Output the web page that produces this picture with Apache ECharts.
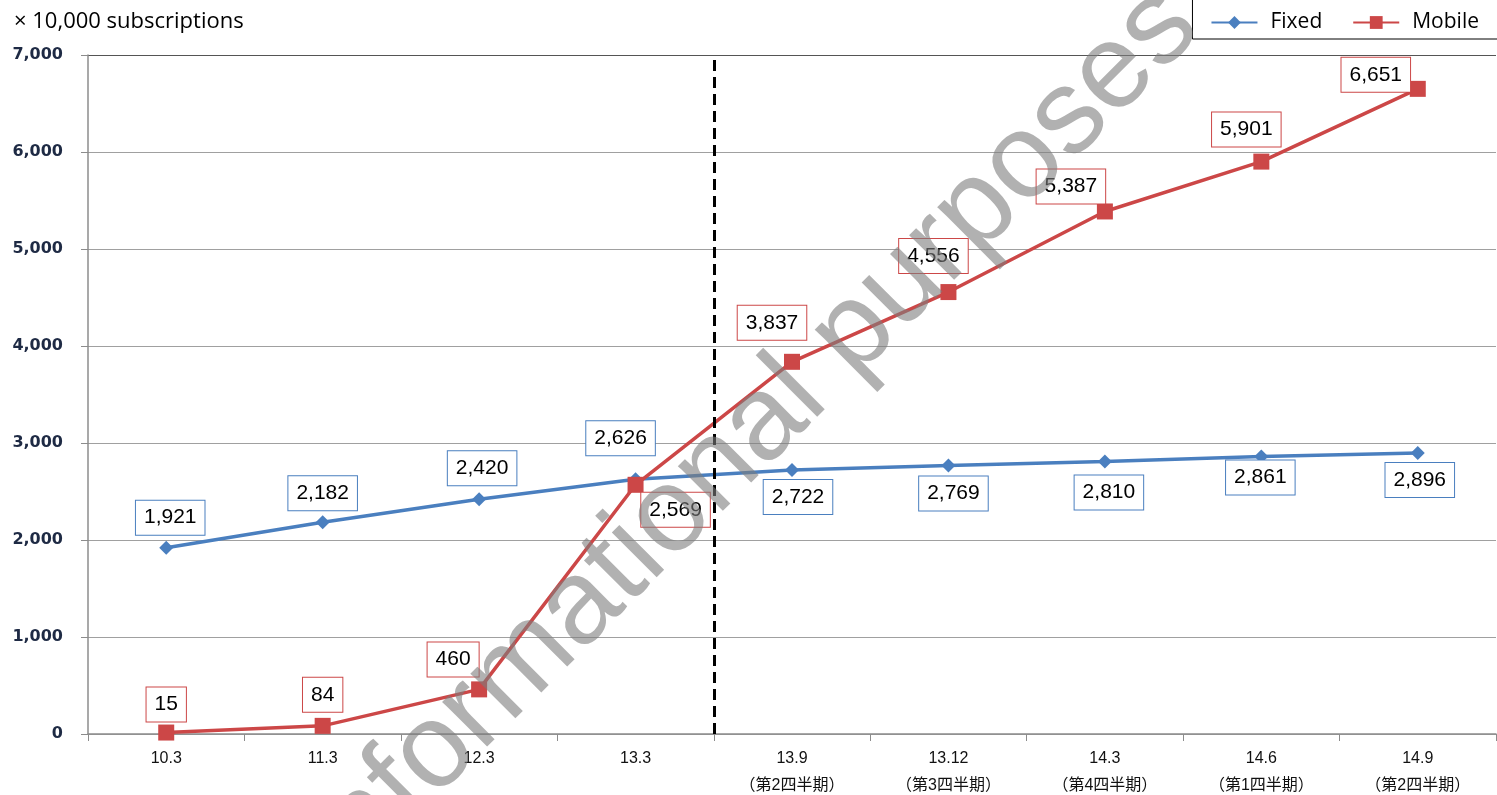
<!DOCTYPE html>
<html>
<head>
<meta charset="utf-8">
<script src="https://cdn.jsdelivr.net/npm/echarts@6/dist/echarts.min.js"></script>
<style>
  html, body { margin: 0; padding: 0; background: #fff; }
  #chart { width: 1497px; height: 795px; }
</style>
</head>
<body>
<div id="chart"></div>
<script>
// 値は図から読み取り（万契約）
const categories = [
  "10.3", "11.3", "12.3", "13.3",
  "13.9\n（第2四半期）", "13.12\n（第3四半期）", "14.3\n（第4四半期）",
  "14.6\n（第1四半期）", "14.9\n（第2四半期）"
];
const fixedValues = [1921, 2182, 2420, 2626, 2722, 2769, 2810, 2861, 2896];
const mobileValues = [15, 84, 460, 2569, 3837, 4556, 5387, 5901, 6651];
const yTicks = [0, 1000, 2000, 3000, 4000, 5000, 6000, 7000];
const dividerAt = 4; // 13.3 と 13.9 の境目

// ラベルの位置ずらし (px)
const fixedLabelOffset = [[4, -30], [0, -29], [3, -31], [-15, -41], [6, 27], [5, 28], [4, 31], [-1, 21], [2, 27]];
const mobileLabelOffset = [[0, -28], [0, -31], [-26, -30], [40, 25], [-20, -39], [-15, -36], [-34, -25], [-15, -32], [-42, -14]];

const BLUE = "#4a7fbf";
const RED = "#cc4747";

function fmt(v) {
  return String(v).replace(/\B(?=(\d{3})+(?!\d))/g, ",");
}

function withLabels(values, offsets, color) {
  return values.map((v, i) => ({
    value: v,
    label: { offset: offsets[i], borderColor: color },
  }));
}

const labelBase = {
  show: true,
  position: "inside",
  formatter: (p) => fmt(p.value),
  color: "#000",
  fontFamily: "Liberation Sans",
  fontSize: 21,
  backgroundColor: "#fff",
  borderWidth: 1,
  padding: [7, 8, 6, 8],
};

const chart = echarts.init(document.getElementById("chart"));
const option = {
  animation: false,
  textStyle: { fontFamily: "Liberation Sans" },
  grid: { left: 88, right: 1, top: 55, bottom: 61, containLabel: false, outerBoundsMode: "none" },
  legend: {
    data: ["Fixed", "Mobile"],
    right: -12,
    top: -6,
    itemWidth: 46,
    itemHeight: 16,
    itemGap: 30,
    padding: [18, 30, 6, 18],
    borderColor: "#000",
    borderWidth: 1,
    textStyle: { fontFamily: "Open Sans", fontSize: 21, color: "#000", padding: [0, 0, 0, 8] },
  },
  graphic: [
    {
      type: "text",
      left: 14,
      top: 11,
      style: { text: "× 10,000 subscriptions", font: '22px "Open Sans"', fill: "#000" },
    },
    {
      type: "text",
      x: 1222,
      y: 50,
      rotation: Math.PI / 4,
      z: 100,
      silent: true,
      style: {
        text: "For informational purposes",
        font: '120px "Liberation Sans"',
        fill: "rgba(125,125,125,0.6)",
        align: "right",
        verticalAlign: "bottom",
      },
    },
  ],
  xAxis: [
    {
      type: "category",
      data: categories,
      boundaryGap: true,
      axisLine: { lineStyle: { color: "#8c8c8c", width: 1.5 } },
      axisTick: { show: true, length: 7, lineStyle: { color: "#8c8c8c" } },
      axisLabel: {
        interval: 0,
        color: "#111",
        fontFamily: '"Liberation Sans", "Noto Sans CJK JP"',
        fontSize: 16,
        lineHeight: 27,
        margin: 11,
      },
    },
    { type: "value", min: 0, max: 9, show: false },
  ],
  yAxis: {
    type: "value",
    min: yTicks[0],
    max: yTicks[yTicks.length - 1],
    interval: 1000,
    axisLine: { show: true, lineStyle: { color: "#8c8c8c", width: 1.5 } },
    axisTick: { show: true, length: 7, lineStyle: { color: "#8c8c8c" } },
    axisLabel: {
      color: "#1e2a44",
      fontFamily: "DejaVu Sans",
      fontWeight: "bold",
      fontSize: 16,
      margin: 25,
      formatter: (v) => fmt(v),
    },
    splitLine: {
      lineStyle: {
        color: ["#a0a0a0", "#a0a0a0", "#a0a0a0", "#a0a0a0", "#a0a0a0", "#a0a0a0", "#a0a0a0", "#555"],
        width: 1.2,
      },
    },
  },
  series: [
    {
      name: "divider",
      type: "line",
      xAxisIndex: 1,
      data: [],
      markLine: {
        silent: true,
        symbol: "none",
        label: { show: false },
        lineStyle: { color: "#000", width: 3, type: [11, 6] },
        data: [{ xAxis: dividerAt }],
      },
    },
    {
      name: "Fixed",
      type: "line",
      data: withLabels(fixedValues, fixedLabelOffset, BLUE),
      symbol: "diamond",
      symbolSize: 14,
      itemStyle: { color: BLUE },
      lineStyle: { color: BLUE, width: 3.5 },
      label: labelBase,
      z: 3,
    },
    {
      name: "Mobile",
      type: "line",
      data: withLabels(mobileValues, mobileLabelOffset, RED),
      symbol: "rect",
      symbolSize: 16,
      itemStyle: { color: RED },
      lineStyle: { color: RED, width: 3.5 },
      label: labelBase,
      z: 4,
    },
  ],
};
chart.setOption(option);
</script>
</body>
</html>
